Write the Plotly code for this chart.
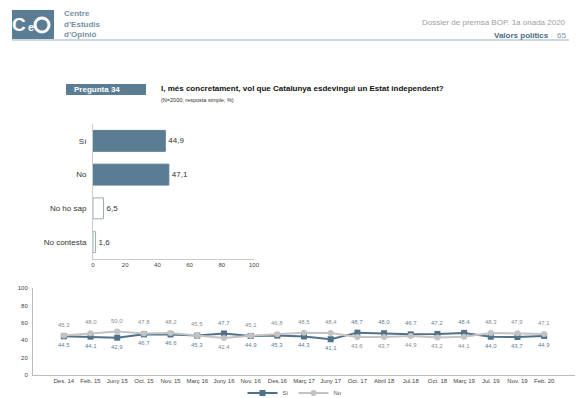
import plotly.graph_objects as go

W, H = 580, 398
FONT = "Liberation Sans, Arial, sans-serif"

# ---- data ----
bar_categories = ["Sí", "No", "No ho sap", "No contesta"]
bar_values = [44.9, 47.1, 6.5, 1.6]

waves = ["Des. 14", "Feb. 15", "Juny 15", "Oct. 15", "Nov. 15", "Març 16", "Juny 16",
         "Nov. 16", "Des.16", "Març 17", "Juny 17", "Oct. 17", "Abril 18", "Jul.18",
         "Oct. 18", "Març 19", "Jul. 19", "Nov. 19", "Feb. 20"]
si_values = [44.5, 44.1, 42.9, 46.7, 46.6, 45.3, 47.7, 44.9, 45.3, 44.3, 41.1, 48.7,
             48.0, 46.7, 47.2, 48.4, 44.0, 43.7, 44.9]
no_values = [45.3, 48.0, 50.0, 47.8, 48.2, 45.5, 42.4, 45.1, 46.8, 48.5, 48.4, 43.6,
             43.7, 44.9, 43.2, 44.1, 48.3, 47.9, 47.1]

# ---- styles ----
SLATE = "#5b7d93"
SI_LINE = "#4f7189"
NO_LINE = "#c3c3c3"
SI_LABEL = "#5f7f97"
NO_LABEL = "#8e8e8e"


def px_x(p):
    return p / W


def px_y(p):
    return 1 - p / H


fig = go.Figure()

# bar chart
bar_fill = [SLATE, SLATE, "white", "white"]
bar_line = [SLATE, SLATE, "#98abb9", "#98abb9"]
fig.add_trace(go.Bar(
    y=bar_categories, x=bar_values, orientation="h",
    marker=dict(color=bar_fill, line=dict(color=bar_line, width=1)),
    texttemplate="%{x:.1f}", textposition="outside",
    textfont=dict(size=8, color="#333333", family=FONT),
    cliponaxis=False, showlegend=False, xaxis="x", yaxis="y",
))

# line chart
fig.add_trace(go.Scatter(
    x=waves, y=si_values, name="Sí", mode="lines+markers",
    line=dict(color=SI_LINE, width=2),
    marker=dict(symbol="square", size=6, color=SI_LINE),
    xaxis="x2", yaxis="y2",
))
fig.add_trace(go.Scatter(
    x=waves, y=no_values, name="No", mode="lines+markers",
    line=dict(color=NO_LINE, width=2),
    marker=dict(symbol="circle", size=6, color=NO_LINE),
    xaxis="x2", yaxis="y2",
))

annotations = []
for w, s, n in zip(waves, si_values, no_values):
    for v, other, col in ((s, n, SI_LABEL), (n, s, NO_LABEL)):
        above = v > other
        annotations.append(dict(
            x=w, y=v, xref="x2", yref="y2", showarrow=False,
            text=f"{v:.1f}".replace(".", ","),
            font=dict(size=6, color=col, family=FONT),
            yshift=11 if above else -9, yanchor="middle",
        ))

# header texts
annotations += [
    dict(x=px_x(62), y=px_y(13.5), text="<b>Centre</b>", xanchor="left", yanchor="middle",
         font=dict(size=8, color="#7590a5", family=FONT)),
    dict(x=px_x(62), y=px_y(24), text="<b>d’Estudis</b>", xanchor="left", yanchor="middle",
         font=dict(size=8, color="#7590a5", family=FONT)),
    dict(x=px_x(62), y=px_y(34.5), text="<b>d’Opinió</b>", xanchor="left", yanchor="middle",
         font=dict(size=8, color="#7590a5", family=FONT)),
    dict(x=px_x(28), y=px_y(25), text="<b>C</b>", xanchor="right", yanchor="middle",
         font=dict(size=19, color="white", family=FONT)),
    dict(x=px_x(31), y=px_y(27), text="<b>e</b>", xanchor="center", yanchor="middle",
         font=dict(size=11, color="white", family=FONT)),
    dict(x=px_x(568), y=px_y(23), text="Dossier de premsa BOP. 1a onada 2020", xanchor="right",
         yanchor="middle", font=dict(size=8, color="#a0a0a0", family=FONT)),
    dict(x=px_x(551), y=px_y(35), text="<b>Valors polítics</b>", xanchor="right",
         yanchor="middle", font=dict(size=8, color="#4b6a84", family=FONT)),
    dict(x=px_x(568), y=px_y(35), text="65", xanchor="right",
         yanchor="middle", font=dict(size=8, color="#7d93a5", family=FONT)),
    dict(x=px_x(72), y=px_y(89.5), text="<b>Pregunta 34</b>", xanchor="left", yanchor="middle",
         font=dict(size=8, color="white", family=FONT)),
    dict(x=px_x(159), y=px_y(88.5),
         text="<b>I, més concretament, vol que Catalunya esdevingui un Estat independent?</b>",
         xanchor="left", yanchor="middle", font=dict(size=8, color="#111111", family=FONT)),
    dict(x=px_x(159), y=px_y(100), text="(N=2000; resposta simple; %)", xanchor="left",
         yanchor="middle", font=dict(size=5.5, color="#333333", family=FONT)),
]
for a in annotations[len(waves) * 2:]:
    a.update(xref="paper", yref="paper", showarrow=False)

shapes = [
    dict(type="rect", xref="paper", yref="paper", x0=px_x(12), x1=px_x(54),
         y0=px_y(39), y1=px_y(10), fillcolor=SLATE, line=dict(width=0), layer="below"),
    dict(type="circle", xref="paper", yref="paper", x0=px_x(35), x1=px_x(49),
         y0=px_y(32), y1=px_y(18), line=dict(color="white", width=3)),
    dict(type="line", xref="paper", yref="paper", x0=px_x(12), x1=px_x(569),
         y0=px_y(40), y1=px_y(40), line=dict(color="#cdd7df", width=2)),
    dict(type="rect", xref="paper", yref="paper", x0=px_x(66), x1=px_x(146),
         y0=px_y(95), y1=px_y(84), fillcolor=SLATE, line=dict(width=0), layer="below"),
]

axis_font = dict(size=6, color="#444444", family=FONT)
fig.update_layout(
    width=W, height=H, margin=dict(l=0, r=0, t=0, b=0, autoexpand=False),
    paper_bgcolor="white", plot_bgcolor="white",
    separators=",.",
    font=dict(family=FONT),
    bargap=0.38,
    annotations=annotations, shapes=shapes,
    xaxis=dict(domain=[px_x(93), px_x(254)], range=[0, 100], dtick=20,
               showgrid=False, zeroline=False, showline=True, linecolor="#cccccc",
               tickfont=axis_font, ticks="", anchor="y"),
    yaxis=dict(domain=[px_y(259), px_y(124)], autorange="reversed",
               showgrid=False, showline=True, linecolor="#cccccc", ticks="",
               tickfont=dict(size=8, color="#333333", family=FONT), ticklabelstandoff=4,
               anchor="x"),
    xaxis2=dict(domain=[px_x(33), px_x(575)], showgrid=False, showline=True,
                linecolor="#bbbbbb", tickfont=axis_font, ticks="", anchor="y2",
                tickangle=0),
    yaxis2=dict(domain=[px_y(375), px_y(288)], range=[0, 100], dtick=20,
                showgrid=False, zeroline=False, showline=True, linecolor="#bbbbbb",
                tickfont=axis_font, ticks="", anchor="x2", ticklabelstandoff=3),
    legend=dict(orientation="h", x=px_x(295), xanchor="center", y=px_y(393), yanchor="middle",
                itemwidth=30, tracegroupgap=0,
                font=dict(size=6, color="#555555", family=FONT), bgcolor="rgba(0,0,0,0)"),
)

fig.write_html("out.html", config={"displayModeBar": False},
               post_script="document.body.style.margin='0';")
